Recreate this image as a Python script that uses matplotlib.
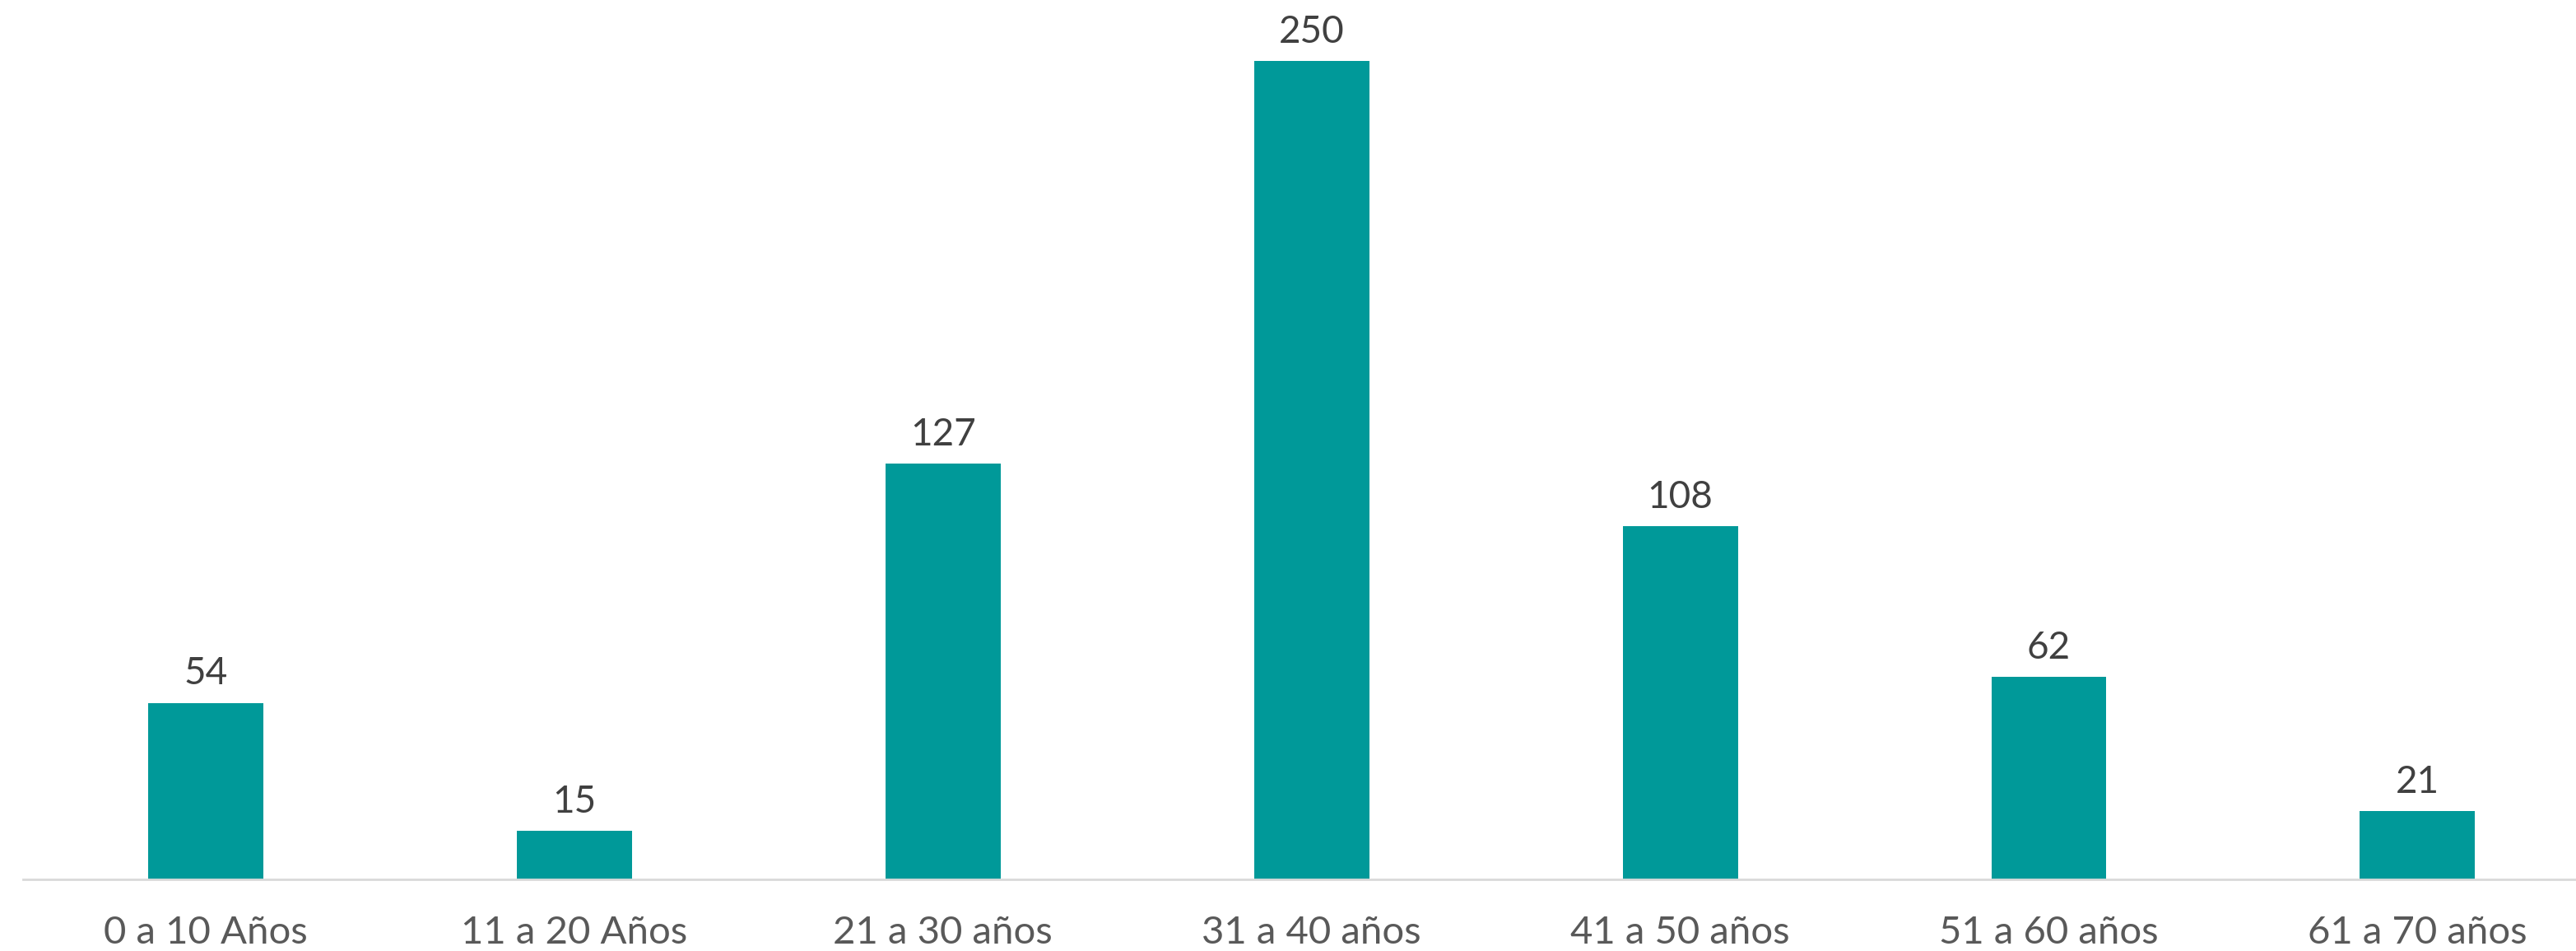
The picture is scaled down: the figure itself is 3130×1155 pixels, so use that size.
import matplotlib
matplotlib.use("Agg")
import matplotlib.pyplot as plt

plt.rcParams.update({
    "font.family": ["Lato", "DejaVu Sans"],
    "font.size": 33,
})

categories = ["0 a 10 Años", "11 a 20 Años", "21 a 30 años", "31 a 40 años",
              "41 a 50 años", "51 a 60 años", "61 a 70 años"]
values = [54, 15, 127, 250, 108, 62, 21]

BAR_COLOR = "#009999"
TEXT_COLOR = "#404040"
TICK_COLOR = "#595959"

fig = plt.figure(figsize=(31.3, 11.55), dpi=100)
ax = fig.add_axes([0.00895, 0.0749, 0.99105, 0.9251])

x = list(range(len(categories)))
ax.bar(x, values, width=0.3125, color=BAR_COLOR, zorder=2)

# value labels: baseline ~22 px above bar top
for xi, v in zip(x, values):
    ax.annotate(f"{v}", (xi, v), xytext=(0, 16), textcoords="offset points",
                ha="center", va="baseline", color=TEXT_COLOR, fontsize=33)

ax.set_xlim(-0.4955, 6.43)
ax.set_ylim(0, 268.6)
ax.set_xticks(x)
ax.set_xticklabels(categories, color=TICK_COLOR, fontsize=34)
for lbl in ax.get_xticklabels():
    lbl.set_va("baseline")
ax.tick_params(axis="x", length=0, pad=56)
ax.set_yticks([])

for side in ("top", "right", "left"):
    ax.spines[side].set_visible(False)
ax.spines["bottom"].set_color("#D9D9D9")
ax.spines["bottom"].set_linewidth(2)

fig.savefig("out.png", dpi=100)
plt.close(fig)
